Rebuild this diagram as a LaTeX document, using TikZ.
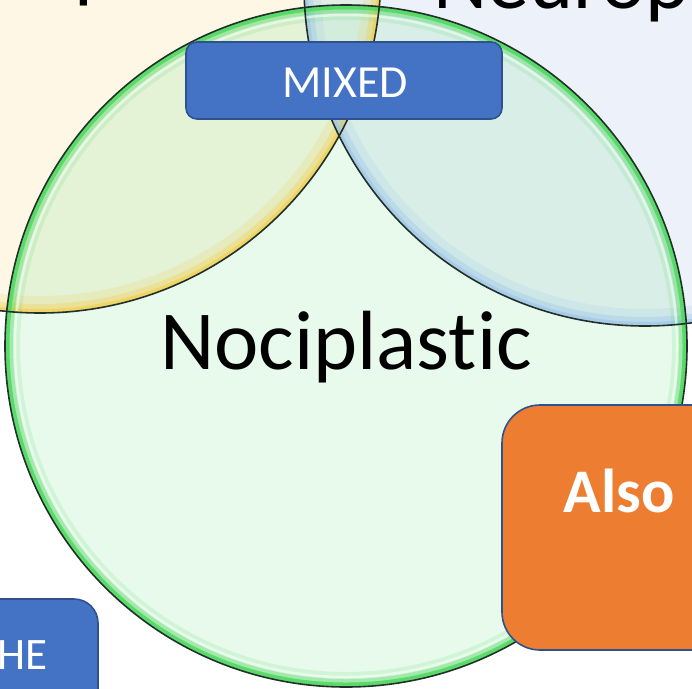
\documentclass[tikz,border=0pt]{standalone}
\usepackage{fontspec}
\setmainfont{Carlito}[Ligatures={NoCommon,NoRequired,NoContextual}]
\definecolor{cream}{HTML}{FEF7E5}
\definecolor{bluebg}{HTML}{EDF2FA}
\definecolor{greenfill}{HTML}{E7FAEB}
\definecolor{ygover}{HTML}{E4F2D6}
\definecolor{bgover}{HTML}{D8EEE7}
\definecolor{triple}{HTML}{D3EDDD}
\definecolor{ybover}{HTML}{E2EEE6}
\definecolor{edge}{HTML}{22302A}
\definecolor{boxblue}{HTML}{4472C4}
\definecolor{boxline}{HTML}{2F528F}
\definecolor{orangebox}{HTML}{ED7D31}
\definecolor{yglow}{HTML}{F2D050}
\definecolor{bglow}{HTML}{9CC4E8}
\definecolor{gglow}{HTML}{4FD860}
\tikzset{
  outline/.style={draw=edge, line width=1.6pt},
  bluebox/.style={fill=boxblue, draw=boxline, line width=1.6pt},
  orangebx/.style={fill=orangebox, draw=boxline, line width=1.6pt},
  lbl/.style={inner sep=0pt, anchor=base},
}
\begin{document}
\begin{tikzpicture}[x=1pt,y=-1pt]
\useasboundingbox (0,0) rectangle (692,688);
\clip (0,0) rectangle (692,688);
\coordinate (G) at (346,346);
\coordinate (Y) at (40,-28);
\coordinate (B) at (645,-15);
% base fills
\fill[cream] (Y) circle[radius=341];
\fill[bluebg] (B) circle[radius=341];
\begin{scope}
  \clip (Y) circle[radius=341];
  \fill[ybover] (B) circle[radius=341];
\end{scope}
\fill[greenfill] (G) circle[radius=341];
\begin{scope}
  \clip (G) circle[radius=341];
  \fill[ygover] (Y) circle[radius=341];
  \fill[bgover] (B) circle[radius=341];
  \begin{scope}
    \clip (Y) circle[radius=341];
    \fill[triple] (B) circle[radius=341];
  \end{scope}
\end{scope}
% glows
\begin{scope}
  \clip (Y) circle[radius=341];
  \draw[yglow, line width=34pt, opacity=.18] (Y) circle[radius=341];
  \draw[yglow, line width=18pt, opacity=.35] (Y) circle[radius=341];
  \draw[yglow, line width=8pt, opacity=.65] (Y) circle[radius=341];
\end{scope}
\begin{scope}
  \clip (B) circle[radius=341];
  \draw[bglow, line width=34pt, opacity=.18] (B) circle[radius=341];
  \draw[bglow, line width=18pt, opacity=.35] (B) circle[radius=341];
  \draw[bglow, line width=8pt, opacity=.6] (B) circle[radius=341];
\end{scope}
\begin{scope}
  \clip (G) circle[radius=341];
  \draw[gglow, line width=30pt, opacity=.15] (G) circle[radius=341];
  \draw[gglow, line width=16pt, opacity=.35] (G) circle[radius=341];
  \draw[white, line width=2.5pt, opacity=.55] (G) circle[radius=331];
  \draw[gglow, line width=9pt, opacity=.85] (G) circle[radius=341];
\end{scope}
% outlines
\draw[outline] (Y) circle[radius=341];
\draw[outline] (B) circle[radius=341];
\draw[outline] (G) circle[radius=341];
% circle titles
\node[lbl, anchor=base west, font=\fontsize{84}{90}\selectfont] (noci) at (-156,-7) {Nociceptive};
\node[lbl, anchor=base west, font=\fontsize{84}{90}\selectfont] (neuro) at (433,9) {Neuropathic};
\node[lbl, font=\fontsize{84}{90}\selectfont] (plastic) at (346,369) {Nociplastic};
% boxes
\draw[bluebox, rounded corners=11pt] (186,42) rectangle (502,119);
\node[lbl, text=white, font=\fontsize{46}{50}\selectfont] (mixed) at (345,97) {MIXED};
\draw[orangebx, rounded corners=38pt] (502,405) rectangle (760,650);
\node[lbl, text=white, font=\fontsize{62}{66}\bfseries\selectfont] (also) at (619,512) {Also};
\draw[bluebox, rounded corners=24pt] (-40,599) rectangle (98,720);
\node[lbl, anchor=base west, text=white, font=\fontsize{45}{50}\selectfont] (he) at (-3,669) {HE};
\end{tikzpicture}
\end{document}
